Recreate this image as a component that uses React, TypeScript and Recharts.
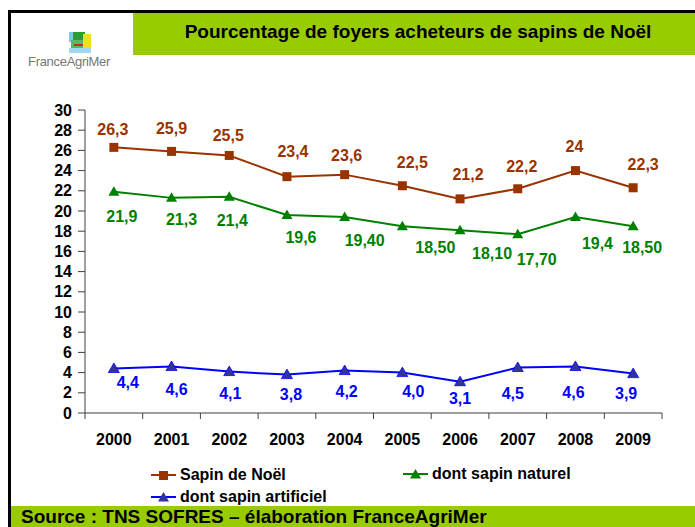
import React from 'react';
import { LineChart, Line, XAxis, YAxis, LabelList } from 'recharts';

const years = ['2000', '2001', '2002', '2003', '2004', '2005', '2006', '2007', '2008', '2009'];
const sapinNoel = [26.3, 25.9, 25.5, 23.4, 23.6, 22.5, 21.2, 22.2, 24, 22.3];
const sapinNaturel = [21.9, 21.3, 21.4, 19.6, 19.4, 18.5, 18.1, 17.7, 19.4, 18.5];
const sapinArtificiel = [4.4, 4.6, 4.1, 3.8, 4.2, 4.0, 3.1, 4.5, 4.6, 3.9];

const noelLabels = ['26,3', '25,9', '25,5', '23,4', '23,6', '22,5', '21,2', '22,2', '24', '22,3'];
const naturelLabels = ['21,9', '21,3', '21,4', '19,6', '19,40', '18,50', '18,10', '17,70', '19,4', '18,50'];
const artificielLabels = ['4,4', '4,6', '4,1', '3,8', '4,2', '4,0', '3,1', '4,5', '4,6', '3,9'];

const yTicks = [0, 2, 4, 6, 8, 10, 12, 14, 16, 18, 20, 22, 24, 26, 28, 30];

// where Excel left each data label, relative to its point
const noelDx = [-1, 0, -1, 6, 2, 10, 8, 4, -1, 10];
const noelDy = [-18, -23, -20, -25, -19, -23, -24, -22, -24, -23];
const naturelDx = [8, 10, 3, 14, 20, 33, 32, 19, 22, 9];
const naturelDy = [25, 22, 24, 22, 23, 21, 23, 25, 26, 21];
const artificielDx = [14, 5, 1, 4, 2, 11, 0, -5, -2, -7];
const artificielDy = [14, 23, 22, 20, 21, 19, 17, 26, 26, 20];

const data = years.map((year, i) => ({
  year,
  noel: sapinNoel[i],
  naturel: sapinNaturel[i],
  artificiel: sapinArtificiel[i],
}));

const FONT = '"Liberation Sans", Arial, sans-serif';
const BROWN = '#993300';
const GREEN = '#008000';
const BLUE = '#0000ff';
const NAVY = '#333399';
const LIME = '#99cc00';

const W = 695;
const H = 527;
const PLOT_LEFT = 85;
const PLOT_RIGHT = 662;
const PLOT_TOP = 110;
const PLOT_BOTTOM = 413;
const HALF_BAND = (PLOT_RIGHT - PLOT_LEFT) / years.length / 2;

const YearTick = (props: any) => {
  const { x, y, payload, index } = props;
  return (
    <g>
      <line x1={x - HALF_BAND} x2={x - HALF_BAND} y1={y} y2={y + 6} stroke="#404040" />
      {index === years.length - 1 && (
        <line x1={x + HALF_BAND} x2={x + HALF_BAND} y1={y} y2={y + 6} stroke="#404040" />
      )}
      <text x={x} y={y + 26} textAnchor="middle" dominantBaseline="central"
        fontFamily={FONT} fontWeight="bold" fontSize={16} fill="#000">
        {payload.value}
      </text>
    </g>
  );
};

const squareDot = (props: any) => (
  <rect key={`s${props.index}`} x={props.cx - 4.5} y={props.cy - 4.5} width={9} height={9} fill={BROWN} />
);

const triPoints = (cx: number, cy: number) =>
  `${cx},${cy - 5.5} ${cx + 5.5},${cy + 4} ${cx - 5.5},${cy + 4}`;

const greenDot = (props: any) => (
  <polygon key={`g${props.index}`} points={triPoints(props.cx, props.cy)} fill={GREEN} />
);
const blueDot = (props: any) => (
  <polygon key={`b${props.index}`} points={triPoints(props.cx, props.cy)} fill={NAVY} stroke={BLUE} strokeWidth={0.8} />
);

const makeLabel = (texts: string[], dx: number[], dy: number[], color: string) => (props: any) => {
  const { x, y, index } = props;
  return (
    <text key={index} x={x + dx[index]} y={y + dy[index]} textAnchor="middle" dominantBaseline="central"
      fontFamily={FONT} fontWeight="bold" fontSize={16} fill={color}>
      {texts[index]}
    </text>
  );
};

const LegendItem = ({ left, top, color, shape, fill, label }: any) => (
  <div style={{ position: 'absolute', left, top, display: 'flex', alignItems: 'center', height: 20 }}>
    <svg width={27} height={12} style={{ marginRight: 3 }}>
      <line x1={1} x2={26} y1={6} y2={6} stroke={color} strokeWidth={2} />
      {shape === 'square' ? (
        <rect x={9} y={2} width={9} height={9} fill={fill} />
      ) : (
        <polygon points={triPoints(13.5, 6.5)} fill={fill} />
      )}
    </svg>
    <span style={{ fontFamily: FONT, fontWeight: 'bold', fontSize: 16, color: '#000', whiteSpace: 'nowrap' }}>{label}</span>
  </div>
);

export default function App() {
  return (
    <div style={{ position: 'absolute', left: 0, top: 0, width: W, height: H, background: '#fff', overflow: 'hidden' }}>
      {/* frame */}
      <div style={{ position: 'absolute', left: 8, top: 10, width: W - 8, height: 3, background: '#000' }} />
      <div style={{ position: 'absolute', left: 8, top: 10, width: 3, height: H - 10, background: '#000' }} />

      {/* header */}
      <div style={{
        position: 'absolute', left: 133, top: 13, width: W - 133, height: 42, background: LIME,
        display: 'flex', alignItems: 'center', justifyContent: 'center',
        fontFamily: FONT, fontWeight: 'bold', fontSize: 19, color: '#000',
      }}>
        <span style={{ marginLeft: 8, marginTop: -4 }}>Pourcentage de foyers acheteurs de sapins de Noël</span>
      </div>

      {/* logo */}
      <div style={{ position: 'absolute', left: 69, top: 32, width: 24, height: 21 }}>
        <div style={{ position: 'absolute', left: 0, top: 0, width: 10, height: 10, background: '#7fc8e8' }} />
        <div style={{ position: 'absolute', left: 4, top: 0, width: 12, height: 8, background: '#2e9a3a' }} />
        <div style={{ position: 'absolute', left: 14, top: 2, width: 8, height: 16, background: '#f0e020' }} />
        <div style={{ position: 'absolute', left: 2, top: 8, width: 12, height: 9, background: '#5cb85c' }} />
        <div style={{ position: 'absolute', left: 5, top: 12, width: 9, height: 2, background: '#c03020' }} />
        <div style={{ position: 'absolute', left: 0, top: 16, width: 22, height: 5, background: '#9fd8ef' }} />
      </div>
      <div style={{ position: 'absolute', left: 28, top: 54, fontFamily: FONT, fontSize: 13, color: '#777', letterSpacing: -0.3 }}>
        FranceAgriMer
      </div>

      <div style={{ position: 'absolute', left: 0, top: 0 }}>
        <LineChart width={W} height={H} data={data}
          margin={{ top: PLOT_TOP, right: W - PLOT_RIGHT, bottom: H - PLOT_BOTTOM - 40, left: 20 }}>
          <XAxis dataKey="year" scale="band" height={40} interval={0} tickSize={0} tickMargin={0}
            tickLine={false} axisLine={{ stroke: '#404040' }} tick={<YearTick />} />
          <YAxis width={PLOT_LEFT - 20} domain={[0, 30]} ticks={yTicks} interval={0} tickSize={7} tickMargin={6}
            axisLine={{ stroke: '#404040' }} tickLine={{ stroke: '#404040' }}
            tick={{ fill: '#000', fontFamily: FONT, fontWeight: 'bold', fontSize: 16 }} />
          <Line dataKey="noel" stroke={BROWN} strokeWidth={2} dot={squareDot} isAnimationActive={false}>
            <LabelList dataKey="noel" content={makeLabel(noelLabels, noelDx, noelDy, BROWN)} />
          </Line>
          <Line dataKey="naturel" stroke={GREEN} strokeWidth={2} dot={greenDot} isAnimationActive={false}>
            <LabelList dataKey="naturel" content={makeLabel(naturelLabels, naturelDx, naturelDy, GREEN)} />
          </Line>
          <Line dataKey="artificiel" stroke={BLUE} strokeWidth={2} dot={blueDot} isAnimationActive={false}>
            <LabelList dataKey="artificiel" content={makeLabel(artificielLabels, artificielDx, artificielDy, BLUE)} />
          </Line>
        </LineChart>
      </div>

      {/* legend */}
      <LegendItem left={150} top={465} color={BROWN} shape="square" fill={BROWN} label="Sapin de Noël" />
      <LegendItem left={402} top={464} color={GREEN} shape="triangle" fill={GREEN} label="dont sapin naturel" />
      <LegendItem left={150} top={487} color={BLUE} shape="triangle" fill={NAVY} label="dont sapin artificiel" />

      {/* source band */}
      <div style={{
        position: 'absolute', left: 11, top: 506, width: W - 11, height: H - 506, background: LIME,
        fontFamily: FONT, fontWeight: 'bold', fontSize: 19, color: '#000', lineHeight: '21px', paddingLeft: 10,
        whiteSpace: 'nowrap', boxSizing: 'border-box',
      }}>
        Source : TNS SOFRES – élaboration FranceAgriMer
      </div>
    </div>
  );
}
